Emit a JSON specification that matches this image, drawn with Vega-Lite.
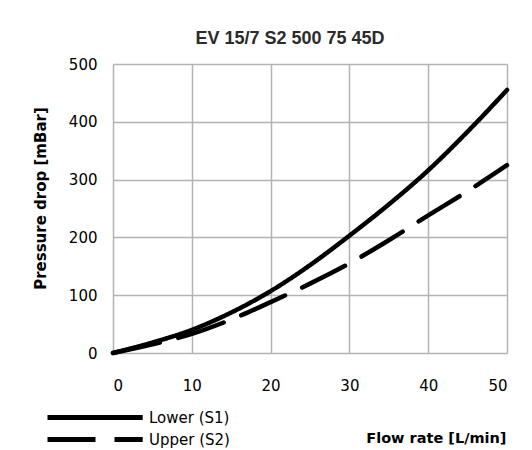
{
  "$schema": "https://vega.github.io/schema/vega-lite/v6.json",
  "autosize": "none",
  "width": 394,
  "height": 289,
  "padding": {"left": 113, "top": 64, "right": 25, "bottom": 97},
  "background": "white",
  "title": {
    "text": "EV 15/7 S2 500 75 45D",
    "font": "Liberation Sans",
    "fontSize": 18,
    "fontWeight": "bold",
    "color": "#2b2b2b",
    "anchor": "middle",
    "dx": -20,
    "offset": 9
  },
  "data": {
    "values": [
      {"flow": 0, "dp": 0, "series": "Lower (S1)"},
      {"flow": 5, "dp": 18, "series": "Lower (S1)"},
      {"flow": 10, "dp": 40, "series": "Lower (S1)"},
      {"flow": 15, "dp": 70, "series": "Lower (S1)"},
      {"flow": 20, "dp": 107, "series": "Lower (S1)"},
      {"flow": 25, "dp": 152, "series": "Lower (S1)"},
      {"flow": 30, "dp": 203, "series": "Lower (S1)"},
      {"flow": 35, "dp": 257, "series": "Lower (S1)"},
      {"flow": 40, "dp": 316, "series": "Lower (S1)"},
      {"flow": 45, "dp": 383, "series": "Lower (S1)"},
      {"flow": 50, "dp": 455, "series": "Lower (S1)"},
      {"flow": 0, "dp": 0, "series": "Upper (S2)"},
      {"flow": 5, "dp": 15, "series": "Upper (S2)"},
      {"flow": 10, "dp": 33, "series": "Upper (S2)"},
      {"flow": 15, "dp": 58, "series": "Upper (S2)"},
      {"flow": 20, "dp": 88, "series": "Upper (S2)"},
      {"flow": 25, "dp": 120, "series": "Upper (S2)"},
      {"flow": 30, "dp": 155, "series": "Upper (S2)"},
      {"flow": 35, "dp": 195, "series": "Upper (S2)"},
      {"flow": 40, "dp": 238, "series": "Upper (S2)"},
      {"flow": 45, "dp": 280, "series": "Upper (S2)"},
      {"flow": 50, "dp": 325, "series": "Upper (S2)"}
    ]
  },
  "mark": {"type": "line", "color": "black", "strokeWidth": 4.5, "strokeCap": "round", "interpolate": "monotone"},
  "encoding": {
    "x": {
      "field": "flow",
      "type": "quantitative",
      "scale": {"domain": [0, 50], "nice": false, "zero": false},
      "axis": {
        "values": [0, 10, 20, 30, 40, 50],
        "title": "Flow rate [L/min]",
        "titleFont": "DejaVu Sans",
        "titleFontSize": 14.5,
        "titleFontWeight": "bold",
        "titleColor": "black",
        "titleAnchor": "end",
        "titleAlign": "right",
        "titleBaseline": "middle",
        "titleX": 393,
        "titleY": 85,
        "labelFont": "DejaVu Sans",
        "labelFontSize": 15,
        "labelColor": "black",
        "labelPadding": 25,
        "ticks": false,
        "domain": false,
        "grid": true,
        "gridColor": "#b3b3b3",
        "gridWidth": 1.5,
        "gridOpacity": 1
      }
    },
    "y": {
      "field": "dp",
      "type": "quantitative",
      "scale": {"domain": [0, 500], "nice": false},
      "axis": {
        "values": [0, 100, 200, 300, 400, 500],
        "title": "Pressure drop [mBar]",
        "titleFont": "DejaVu Sans",
        "titleFontSize": 15,
        "titleFontWeight": "bold",
        "titleColor": "black",
        "titleBaseline": "middle",
        "titleX": -73,
        "titleY": 134,
        "titleAngle": -90,
        "labelFont": "DejaVu Sans",
        "labelFontSize": 15,
        "labelColor": "black",
        "labelPadding": 16,
        "ticks": false,
        "domain": false,
        "grid": true,
        "gridColor": "#b3b3b3",
        "gridWidth": 1.5,
        "gridOpacity": 1
      }
    },
    "strokeDash": {
      "field": "series",
      "type": "nominal",
      "scale": {"domain": ["Lower (S1)", "Upper (S2)"], "range": [[1, 0], [48, 19]]},
      "legend": {
        "title": null,
        "orient": "none",
        "legendX": -68,
        "legendY": 343,
        "padding": 0,
        "symbolType": "M-1,0H10.9",
        "symbolSize": 256,
        "symbolStrokeWidth": 5,
        "symbolStrokeColor": "black",
        "labelFont": "DejaVu Sans",
        "labelFontSize": 15,
        "labelColor": "black",
        "labelOffset": 83,
        "rowPadding": 1
      }
    }
  },
  "config": {"view": {"stroke": null}}
}
